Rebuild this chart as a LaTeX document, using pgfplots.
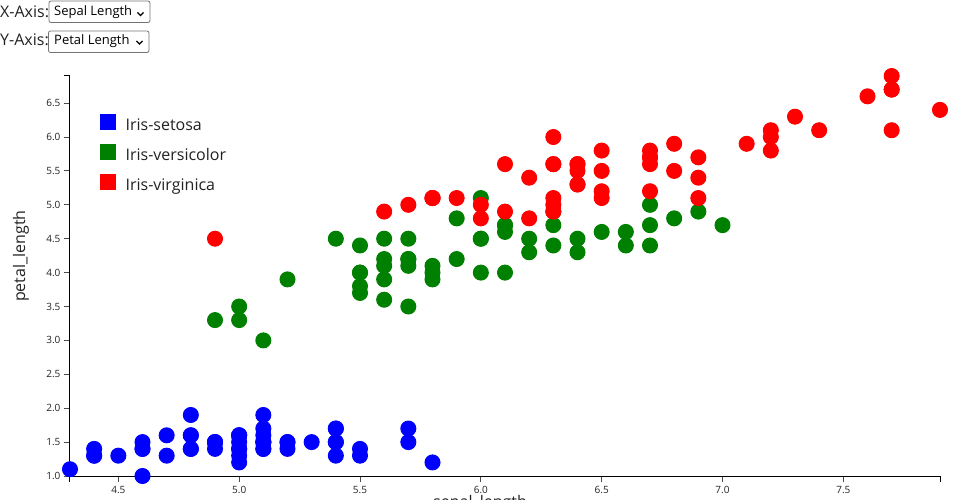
\documentclass[border=0pt]{standalone}
\usepackage{fontspec}
\setmainfont{Open Sans}
\usepackage{pgfplots}
\pgfplotsset{compat=1.18}
\definecolor{irisblue}{RGB}{0,0,255}
\definecolor{irisgreen}{RGB}{0,128,0}
\definecolor{irisred}{RGB}{255,0,0}
\definecolor{txt}{RGB}{34,34,34}
\pgfplotsset{
  sq/.style={legend image code/.code={\fill[#1] (0pt,-3pt) rectangle (15pt,12pt);}},
}
\begin{document}
\begin{tikzpicture}[x=1pt,y=1pt]
\useasboundingbox (-70,-24) rectangle (890,476);
\begin{axis}[
  at={(0,0)}, anchor=south west,
  scale only axis, width=870pt, height=400pt,
  xmin=4.3, xmax=7.9, ymin=1.0, ymax=6.9,
  axis lines*=left,
  axis line style={black, line width=1pt},
  tick style={black!70, line width=1pt},
  major tick length=6pt,
  tick align=outside,
  xtick={4.5,5.0,5.5,6.0,6.5,7.0,7.5},
  ytick={1.0,1.5,2.0,2.5,3.0,3.5,4.0,4.5,5.0,5.5,6.0,6.5},
  extra x ticks={4.3,7.9}, extra x tick labels={},
  extra y ticks={6.9}, extra y tick labels={},
  extra tick style={tick style={black, line width=1pt}},
  /pgf/number format/assume math mode=true,
  /pgf/number format/.cd, fixed, fixed zerofill, precision=1, /pgfplots/.cd,
  ticklabel style={font=\fontsize{10}{12}\selectfont, text=txt},
  xticklabel style={yshift=-1pt},
  xlabel={sepal\_length},
  xlabel style={at={(rel axis cs:0.4713,0)}, anchor=north, yshift=-19pt, inner sep=0pt, font=\fontsize{16}{19}\selectfont, text=txt},
  ylabel={petal\_length},
  ylabel style={at={(rel axis cs:-0.0563,0.55)}, anchor=center, inner sep=0pt, font=\fontsize{16}{19}\selectfont, text=txt},
  clip=false,
  legend cell align=left,
  legend style={at={(rel axis cs:0.03448,0.905)}, anchor=north west, draw=none, fill=none,
    inner sep=0pt, row sep=10pt, column sep=10pt,
    nodes={inner sep=0pt, text height=12pt, text depth=3pt, font=\fontsize{16}{19}\selectfont, text=txt}},
]
\addplot[only marks, mark=*, mark size=7.5pt, color=irisblue, mark options={fill=irisblue, draw=irisblue, line width=1pt}, sq=irisblue] coordinates {
(5.1,1.4) (4.9,1.4) (4.7,1.3) (4.6,1.5) (5.0,1.4) (5.4,1.7) (4.6,1.4) (5.0,1.5) (4.4,1.4) (4.9,1.5)
(5.4,1.5) (4.8,1.6) (4.8,1.4) (4.3,1.1) (5.8,1.2) (5.7,1.5) (5.4,1.3) (5.1,1.4) (5.7,1.7) (5.1,1.5)
(5.4,1.7) (5.1,1.5) (4.6,1.0) (5.1,1.7) (4.8,1.9) (5.0,1.6) (5.0,1.6) (5.2,1.5) (5.2,1.4) (4.7,1.6)
(4.8,1.6) (5.4,1.5) (5.2,1.5) (5.5,1.4) (4.9,1.5) (5.0,1.2) (5.5,1.3) (4.9,1.5) (4.4,1.3) (5.1,1.5)
(5.0,1.3) (4.5,1.3) (4.4,1.3) (5.0,1.6) (5.1,1.9) (4.8,1.4) (5.1,1.6) (4.6,1.4) (5.3,1.5) (5.0,1.4)
};
\addlegendentry{Iris-setosa}
\addplot[only marks, mark=*, mark size=7.5pt, color=irisgreen, mark options={fill=irisgreen, draw=irisgreen, line width=1pt}, sq=irisgreen] coordinates {
(7.0,4.7) (6.4,4.5) (6.9,4.9) (5.5,4.0) (6.5,4.6) (5.7,4.5) (6.3,4.7) (4.9,3.3) (6.6,4.6) (5.2,3.9)
(5.0,3.5) (5.9,4.2) (6.0,4.0) (6.1,4.7) (5.6,3.6) (6.7,4.4) (5.6,4.5) (5.8,4.1) (6.2,4.5) (5.6,3.9)
(5.9,4.8) (6.1,4.0) (6.3,4.9) (6.1,4.7) (6.4,4.3) (6.6,4.4) (6.8,4.8) (6.7,5.0) (6.0,4.5) (5.7,3.5)
(5.5,3.8) (5.5,3.7) (5.8,3.9) (6.0,5.1) (5.4,4.5) (6.0,4.5) (6.7,4.7) (6.3,4.4) (5.6,4.1) (5.5,4.0)
(5.5,4.4) (6.1,4.6) (5.8,4.0) (5.0,3.3) (5.6,4.2) (5.7,4.2) (5.7,4.2) (6.2,4.3) (5.1,3.0) (5.7,4.1)
};
\addlegendentry{Iris-versicolor}
\addplot[only marks, mark=*, mark size=7.5pt, color=irisred, mark options={fill=irisred, draw=irisred, line width=1pt}, sq=irisred] coordinates {
(6.3,6.0) (5.8,5.1) (7.1,5.9) (6.3,5.6) (6.5,5.8) (7.6,6.6) (4.9,4.5) (7.3,6.3) (6.7,5.8) (7.2,6.1)
(6.5,5.1) (6.4,5.3) (6.8,5.5) (5.7,5.0) (5.8,5.1) (6.4,5.3) (6.5,5.5) (7.7,6.7) (7.7,6.9) (6.0,5.0)
(6.9,5.7) (5.6,4.9) (7.7,6.7) (6.3,4.9) (6.7,5.7) (7.2,6.0) (6.2,4.8) (6.1,4.9) (6.4,5.6) (7.2,5.8)
(7.4,6.1) (7.9,6.4) (6.4,5.6) (6.3,5.1) (6.1,5.6) (7.7,6.1) (6.3,5.6) (6.4,5.5) (6.0,4.8) (6.9,5.4)
(6.7,5.6) (6.9,5.1) (5.8,5.1) (6.8,5.9) (6.7,5.7) (6.7,5.2) (6.3,5.0) (6.5,5.2) (6.2,5.4) (5.9,5.1)
};
\addlegendentry{Iris-virginica}
\end{axis}
% top controls (pixel (px,py) -> (px-70, 476-py))
\node[anchor=west, inner sep=0pt, font=\fontsize{16}{19}\selectfont, text=txt] at (-70,464) {X-Axis:};
\draw[black!55, line width=0.8pt, rounded corners=2pt] (-21,475) rectangle (80,453.5);
\node[anchor=west, inner sep=0pt, font=\fontsize{13}{16}\selectfont, text=black] at (-16,464) {Sepal Length};
\draw[black, line width=1.3pt] (67.5,463.5) -- (70.5,460.5) -- (73.5,463.5);
\node[anchor=west, inner sep=0pt, font=\fontsize{16}{19}\selectfont, text=txt] at (-70,436) {Y-Axis:};
\draw[black!55, line width=0.8pt, rounded corners=2pt] (-21.5,445) rectangle (79,423.5);
\node[anchor=west, inner sep=0pt, font=\fontsize{13}{16}\selectfont, text=black] at (-16,434.5) {Petal Length};
\draw[black, line width=1.3pt] (66.5,435) -- (69.5,432) -- (72.5,435);
\end{tikzpicture}
\end{document}
